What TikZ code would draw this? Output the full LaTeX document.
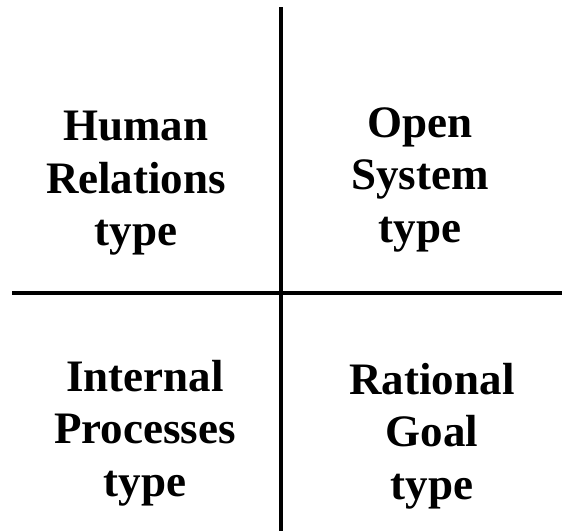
\documentclass[tikz,border=0pt]{standalone}
\usepackage{fontspec}
\setmainfont{Liberation Serif}
\usetikzlibrary{positioning}

\tikzset{
    quadtext/.style = {font=\bfseries\fontsize{45}{52.5}\selectfont,
        align=center, inner sep=0pt, anchor=north},
    axis/.style = {line width=3.5pt, black}
}

\begin{document}
\begin{tikzpicture}[x=1pt,y=1pt]
\useasboundingbox (0,0) rectangle (562,-531);

% the two axes
\coordinate (top) at (281,-7);
\coordinate (bottom) at (281,-531);
\coordinate (left) at (12,-293);
\coordinate (right) at (562,-293);
\draw[axis] (top) -- (bottom);
\draw[axis] (left) -- (right);

% the four types
\node[quadtext] (hr) at (136,-111) {Human\\Relations\\type};
\node[quadtext] (os) at (420,-107) {Open\\System\\type};
\node[quadtext] (ip) at (145,-360) {Internal\\Processes\\type};
\node[quadtext] (rg) at (432,-363) {Rational\\Goal\\type};

\end{tikzpicture}
\end{document}
